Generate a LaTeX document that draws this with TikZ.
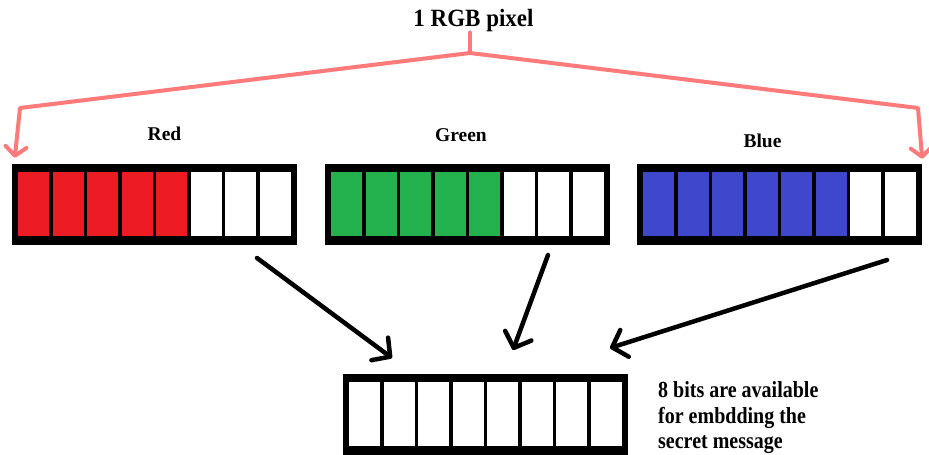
\documentclass[tikz,border=0pt]{standalone}
\usepackage{fontspec}
\setmainfont{Liberation Serif}
\usetikzlibrary{arrows.meta,calc}

\definecolor{bitred}{RGB}{237,28,36}
\definecolor{bitgreen}{RGB}{34,177,76}
\definecolor{bitblue}{RGB}{63,72,204}
\definecolor{treepink}{RGB}{255,122,122}

% eight bit cells inside a black byte frame: #2 coloured cells of colour #3, the rest white
\newcommand\bitcells[3]{%
  \foreach \i in {0,...,7}{%
    \ifnum\i<#2\relax\def\cellcol{#3}\else\def\cellcol{white}\fi
    \fill[\cellcol] ($(#1.north west)+({6.5+\i*34.5},8.5)$) rectangle ++(31,64);
  }}

\begin{document}
\begin{tikzpicture}[x=1pt,y=-1pt,
  bytebar/.style={rectangle, fill=black, minimum width=285pt, minimum height=81pt, inner sep=0pt},
  chanlabel/.style={font=\fontsize{19.5}{23}\selectfont\bfseries, anchor=base, inner sep=0pt},
  tree/.style={draw=treepink, line width=4pt, line join=round, line cap=round},
  treetip/.style={-{Straight Barb[length=9pt,width=21pt,round]}},
  flow/.style={draw=black, line width=4.5pt, line cap=round,
    -{Straight Barb[length=13pt,width=28pt,round]}}]
\useasboundingbox (0,0) rectangle (929,455);

% title and channel labels
\node[font=\fontsize{23}{28}\selectfont\bfseries, anchor=base, inner sep=0pt] (title) at (473.5,27)
  {\scalebox{1}[1.08]{1 RGB pixel}};
\node[chanlabel] (redlbl) at (164.5,140) {Red};
\node[chanlabel] (greenlbl) at (461,141.5) {Green};
\node[chanlabel] (bluelbl) at (762.5,147) {Blue};

% byte frames
\node[bytebar] (red) at (154.5,204.5) {};
\node[bytebar] (green) at (467.5,204.5) {};
\node[bytebar] (blue) at (779.5,204.5) {};
\node[bytebar] (out) at (485.5,414) {};

\bitcells{red}{5}{bitred}
\bitcells{green}{5}{bitgreen}
\bitcells{blue}{6}{bitblue}
\bitcells{out}{0}{white}

% pink split from the pixel to the channels
\coordinate (fork) at (470,53);
\coordinate (lbend) at (20,108);
\coordinate (rbend) at (918,108);
\draw[tree] (title.south -| fork) -- (fork);
\draw[tree,treetip] (fork) -- (lbend) -- ([xshift=3pt,yshift=6pt]red.north west);
\draw[tree,treetip] (fork) -- (rbend) -- ([yshift=5pt]blue.north east);

% black arrows from the channels to the embedding byte
\coordinate (rstart) at (257,258);
\coordinate (gstart) at (548,255);
\coordinate (bstart) at (887,260);
\coordinate (rtip) at (392,358);
\coordinate (gtip) at (513,350);
\coordinate (btip) at (610,348);
\draw[flow] (rstart) -- (rtip);
\draw[flow] (gstart) -- (gtip);
\draw[flow] (bstart) -- (btip);

% note beside the embedding byte
\node[anchor=north west, inner sep=0pt,
  font=\fontsize{20}{22.2}\selectfont\bfseries] (note) at (658,379.5)
  {\scalebox{1}[1.15]{\begin{tabular}{@{}l@{}}8 bits are available\\for embdding the\\secret message\end{tabular}}};
\end{tikzpicture}
\end{document}
